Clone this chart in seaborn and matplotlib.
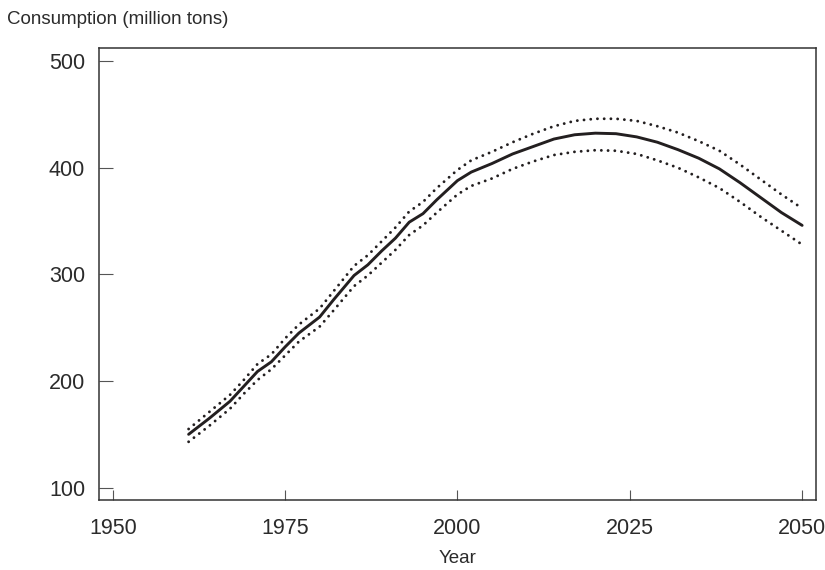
import matplotlib

matplotlib.use('Agg')

import pandas as pd  # noqa: E402
import seaborn as sns  # noqa: E402
from matplotlib import pyplot as plt  # noqa: E402

years = [1961, 1964, 1967, 1969, 1971, 1973, 1975, 1977, 1980, 1982, 1985, 1987,
         1989, 1991, 1993, 1995, 1997, 2000, 2002, 2005, 2008, 2011, 2014, 2017,
         2020, 2023, 2026, 2029, 2032, 2035, 2038, 2041, 2044, 2047, 2050]

central = [150, 165, 181, 195, 209, 218, 232, 245, 260, 276, 299, 309,
           322, 334, 349, 357, 370, 388, 396, 404, 413, 420, 427, 431,
           432.5, 432, 429, 424, 417, 409, 399, 386, 372, 358, 346]

upper = [155, 171, 187, 201, 216, 225, 240, 253, 268, 284, 308, 318,
         331, 344, 359, 368, 381, 398, 407, 415, 424, 432, 439, 444,
         446, 446, 444, 439, 433, 425, 416, 403, 389, 375, 362]

lower = [143, 158, 174, 188, 201, 211, 224, 237, 251, 266, 289, 299,
         311, 323, 337, 346, 358, 375, 383, 390, 399, 406, 412, 415,
         416.5, 416, 413, 407, 400, 391, 381, 368, 354, 341, 328]

INK = '#231f20'

df = pd.DataFrame({'Year': years, 'central': central, 'upper': upper, 'lower': lower})

sns.set_style('white')
plt.rcParams['font.family'] = ['Liberation Sans', 'DejaVu Sans']

fig = plt.figure(figsize=(8.25, 5.7), dpi=100)
ax = fig.add_axes([0.12, 0.123, 0.869, 0.793])

dot = (0, (0.01, 2.3))
sns.lineplot(df, x='Year', y='upper', color=INK, lw=2.1, linestyle=dot,
             dash_capstyle='round', ax=ax)
sns.lineplot(df, x='Year', y='lower', color=INK, lw=2.1, linestyle=dot,
             dash_capstyle='round', ax=ax)
sns.lineplot(df, x='Year', y='central', color=INK, lw=2.1, ax=ax)

ax.set_xlim(1948, 2052)
ax.set_ylim(88.5, 512.5)
ax.set_xticks([1950, 1975, 2000, 2025, 2050])
ax.set_yticks([100, 200, 300, 400, 500])

for spine in ax.spines.values():
    spine.set_visible(True)
    spine.set_color('#333333')
    spine.set_linewidth(1.1)

ax.tick_params(axis='x', direction='in', length=7, width=0.8, color='#555555',
               labelsize=15.5, labelcolor='#2b2b2b', pad=13, bottom=True)
ax.tick_params(axis='y', direction='in', length=10, width=0.8, color='#555555',
               labelsize=15.5, labelcolor='#2b2b2b', pad=10, left=True)

ax.set_xlabel('Year', fontsize=13.5, color='#2b2b2b', labelpad=8)
ax.set_ylabel('')
fig.text(0.008, 0.965, 'Consumption (million tons)', fontsize=13.5, color='#2b2b2b',
         ha='left', va='center')

fig.savefig('out.png', dpi=100)
plt.close(fig)
